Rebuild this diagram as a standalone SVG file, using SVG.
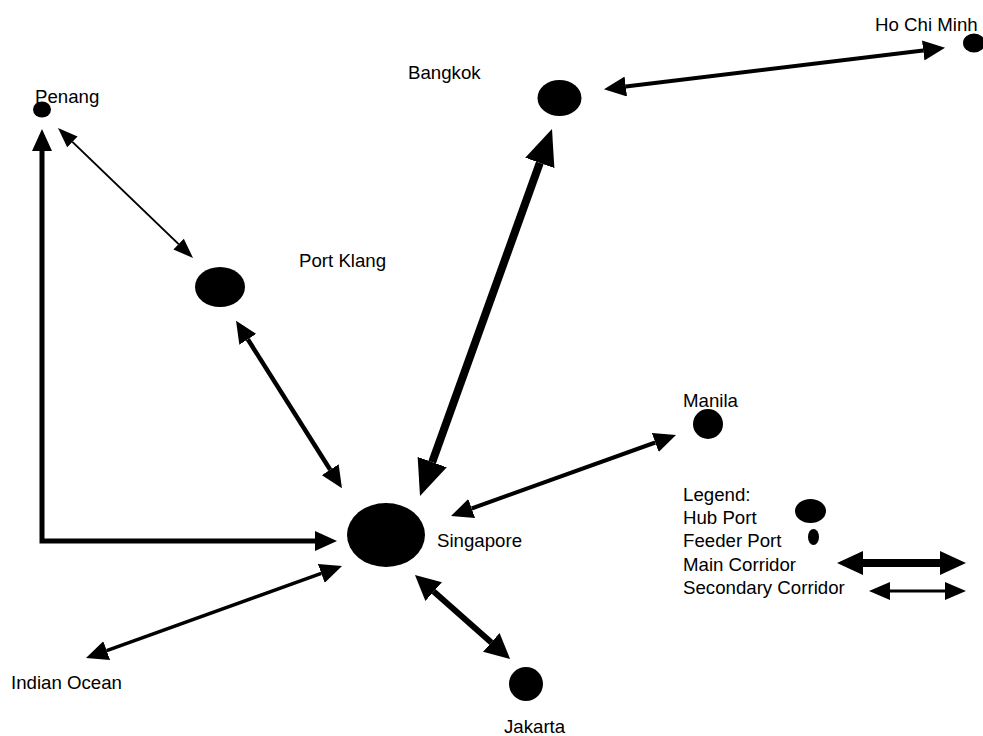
<svg xmlns="http://www.w3.org/2000/svg" width="983" height="736" viewBox="0 0 983 736">
<style>
text{font-family:"Liberation Sans",Arial,sans-serif;font-size:18.67px;fill:#000}
.port{fill:#000}
.c{fill:none;stroke:#000;stroke-linejoin:miter}
</style>
<defs>
<marker id="mk-main" markerUnits="userSpaceOnUse" viewBox="0 0 36 31" refX="0" refY="15.5" markerWidth="36" markerHeight="31" orient="auto-start-reverse"><path d="M0,0 L36,15.5 L0,31 z"/></marker>
<marker id="mk-lmain" markerUnits="userSpaceOnUse" viewBox="0 0 26 24" refX="0" refY="12" markerWidth="26" markerHeight="24" orient="auto-start-reverse"><path d="M0,0 L26,12 L0,24 z"/></marker>
<marker id="mk-med" markerUnits="userSpaceOnUse" viewBox="0 0 22 20" refX="0" refY="10" markerWidth="22" markerHeight="20" orient="auto-start-reverse"><path d="M0,0 L22,10 L0,20 z"/></marker>
<marker id="mk-thin" markerUnits="userSpaceOnUse" viewBox="0 0 20 15" refX="0" refY="7.5" markerWidth="20" markerHeight="15" orient="auto-start-reverse"><path d="M0,0 L20,7.5 L0,15 z"/></marker>
<marker id="mk-jak" markerUnits="userSpaceOnUse" viewBox="0 0 25 25" refX="0" refY="12.5" markerWidth="25" markerHeight="25" orient="auto-start-reverse"><path d="M0,0 L25,12.5 L0,25 z"/></marker>
<marker id="mk-lsec" markerUnits="userSpaceOnUse" viewBox="0 0 21 18" refX="0" refY="9" markerWidth="21" markerHeight="18" orient="auto-start-reverse"><path d="M0,0 L21,9 L0,18 z"/></marker>
</defs>
<rect width="983" height="736" fill="#fff"/>
<g id="connectors">
<polyline class="c" stroke-width="5" points="42,151 42,541 315,541" marker-start="url(#mk-med)" marker-end="url(#mk-med)"/>
<line class="c" stroke-width="2" x1="72.4" y1="141.9" x2="178.6" y2="244.1" marker-start="url(#mk-thin)" marker-end="url(#mk-thin)"/>
<line class="c" stroke-width="4.5" x1="247.8" y1="339.3" x2="330.2" y2="469.7" marker-start="url(#mk-med)" marker-end="url(#mk-med)"/>
<line class="c" stroke-width="8" x1="539.8" y1="162.9" x2="432.2" y2="462.1" marker-start="url(#mk-main)" marker-end="url(#mk-main)"/>
<line class="c" stroke-width="4" x1="625.8" y1="86.5" x2="923.2" y2="50.5" marker-start="url(#mk-med)" marker-end="url(#mk-med)"/>
<line class="c" stroke-width="4" x1="655.3" y1="442.5" x2="471.7" y2="508.5" marker-start="url(#mk-med)" marker-end="url(#mk-med)"/>
<line class="c" stroke-width="3.5" x1="321.3" y1="573.4" x2="106.7" y2="650.6" marker-start="url(#mk-med)" marker-end="url(#mk-med)"/>
<line class="c" stroke-width="6" x1="433.7" y1="591.6" x2="491.3" y2="642.4" marker-start="url(#mk-jak)" marker-end="url(#mk-jak)"/>
</g>
<g id="singapore"><ellipse class="port" cx="386" cy="535" rx="39" ry="32"/><text x="437" y="547">Singapore</text></g>
<g id="bangkok"><ellipse class="port" cx="559.5" cy="98" rx="22" ry="18"/><text x="408" y="79">Bangkok</text></g>
<g id="hochiminh"><ellipse class="port" cx="974" cy="43" rx="11" ry="9.5"/><text x="875" y="31">Ho Chi Minh</text></g>
<g id="penang"><ellipse class="port" cx="42" cy="109.5" rx="9" ry="8"/><text x="35" y="103">Penang</text></g>
<g id="portklang"><ellipse class="port" cx="220" cy="287" rx="25" ry="20"/><text x="299" y="267">Port Klang</text></g>
<g id="manila"><ellipse class="port" cx="708" cy="424" rx="15" ry="15"/><text x="683" y="407">Manila</text></g>
<g id="jakarta"><ellipse class="port" cx="526" cy="684" rx="17" ry="17"/><text x="504" y="733">Jakarta</text></g>
<g id="indianocean"><text x="11" y="689">Indian Ocean</text></g>
<g id="legend">
<text x="683" y="501">Legend:</text>
<text x="683" y="524">Hub Port</text>
<text x="683" y="547">Feeder Port</text>
<text x="683" y="571">Main Corridor</text>
<text x="683" y="594">Secondary Corridor</text>
<ellipse class="port" cx="810.5" cy="511" rx="15.5" ry="12"/>
<ellipse class="port" cx="813.5" cy="537" rx="5.5" ry="8"/>
<line class="c" stroke-width="8" x1="863" y1="563" x2="940" y2="563" marker-start="url(#mk-lmain)" marker-end="url(#mk-lmain)"/>
<line class="c" stroke-width="3" x1="890" y1="591" x2="945" y2="591" marker-start="url(#mk-lsec)" marker-end="url(#mk-lsec)"/>
</g>
</svg>
